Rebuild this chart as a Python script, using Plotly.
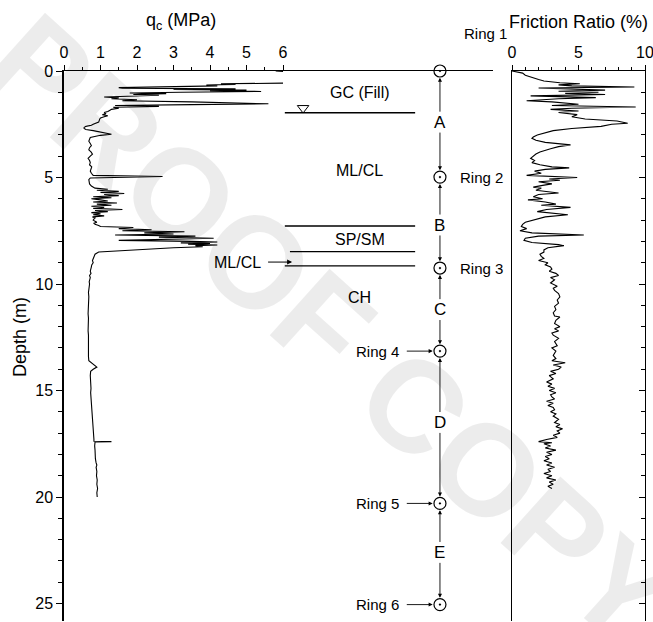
import plotly.graph_objects as go

# ---------------- data ----------------
qc_depth = [0.00, 0.02, None,
    0.57, 0.60, 0.63, 0.66, 0.70, 0.74, 0.78, 0.81, 0.84, 0.87, 0.90, 0.93, 0.96, 1.00, 1.03, 1.06, 1.10, 1.14,
    1.18, 1.22, 1.26, 1.30, 1.35, 1.40, 1.45, 1.50, 1.54, 1.58, 1.62, 1.66, 1.70, 1.75, 1.80, 1.85, 1.90, 1.95,
    2.00, 2.05, 2.10, 2.15, 2.20, 2.25, 2.30, 2.40, 2.50, 2.55, 2.60, 2.65, 2.70, 2.75, 2.80, 2.85, 2.92, 2.97,
    3.02, 3.07, 3.12, 3.2, 3.3, 3.4, 3.5, 3.6, 3.7, 3.8, 3.9, 4.0, 4.1, 4.2, 4.3, 4.4, 4.5, 4.6, 4.7, 4.8, 4.9,
    4.95, 4.98, 5.02, 5.1, 5.2, 5.3, 5.4, 5.5, 5.55, 5.6, 5.65, 5.7, 5.75, 5.8, 5.85, 5.9, 5.95, 6.0, 6.05, 6.1,
    6.15, 6.2, 6.25, 6.3, 6.35, 6.4, 6.45, 6.5, 6.55, 6.6, 6.65, 6.7, 6.75, 6.8, 6.85, 6.9, 6.95, 7.0, 7.05, 7.1,
    7.15, 7.2, 7.25, 7.3, 7.35, 7.4, 7.45, 7.5, 7.55, 7.6, 7.65, 7.7, 7.75, 7.8, 7.85, 7.9, 7.95, 8.0, 8.03, 8.07,
    8.1, 8.13, 8.17, 8.2, 8.25, 8.3, 8.4, 8.5, 8.6, 8.7, 8.8, 8.9, 9.0, 9.1, 9.2, 9.3, 9.4, 9.5, 9.6, 9.7, 9.8,
    9.9, 10.0, 10.2, 10.4, 10.6, 10.8, 11.0, 11.2, 11.4, 11.6, 11.8, 12.0, 12.2, 12.4, 12.6, 12.8, 13.0, 13.2,
    13.4, 13.6, 13.7, 13.8, 13.9, 14.0, 14.1, 14.3, 14.5, 14.7, 14.9, 15.1, 15.3, 15.5, 15.7, 15.9, 16.1, 16.3,
    16.5, 16.7, 16.9, 17.1, 17.3, 17.38, 17.4, 17.42, 17.6, 17.8, 18.0, 18.2, 18.4, 18.5, 18.6, 18.8, 19.0,
    19.2, 19.4, 19.6, 19.8, 20.0]
qc_mpa = [5.8, 6.0, None,
    6.0, 4.3, 4.7, 3.9, 4.2, 2.5, 1.5, 1.6, 4.7, 3.0, 5.0, 4.0, 5.4, 3.2, 1.8, 2.8, 1.9, 2.6,
    1.3, 1.1, 1.5, 1.3, 2.0, 1.6, 3.5, 5.0, 5.6, 3.5, 1.4, 2.6, 1.35, 1.5, 1.3, 1.25, 1.2, 1.1,
    1.15, 1.05, 1.2, 1.1, 1.0, 0.98, 0.97, 0.95, 0.8, 0.75, 0.6, 0.55, 0.55, 0.6, 0.8, 0.95, 1.1, 1.3,
    1.0, 0.8, 0.72, 0.7, 0.68, 0.72, 0.75, 0.7, 0.68, 0.74, 0.78, 0.72, 0.66, 0.7, 0.72, 0.7, 0.76, 0.74, 0.72, 0.75, 0.8,
    2.7, 1.5, 0.72, 0.68, 0.7, 0.7, 0.75, 0.85, 1.2, 0.9, 1.5, 1.0, 1.65, 1.1, 1.5, 0.8, 1.3, 0.75, 1.0, 1.2,
    0.8, 1.45, 0.9, 1.3, 0.75, 1.1, 0.8, 1.6, 0.85, 1.2, 0.75, 1.0, 0.8, 1.1, 0.78, 0.85, 0.82, 0.8, 0.85, 0.9,
    0.82, 0.85, 0.95, 1.0, 1.9, 1.5, 2.4, 1.6, 3.3, 2.2, 3.0, 1.4, 3.6, 2.6, 4.1, 2.2, 1.5, 3.5, 4.2, 3.2,
    4.0, 3.4, 4.2, 3.6, 3.8, 3.0, 1.8, 0.95, 0.85, 0.82, 0.8, 0.78, 0.8, 0.76, 0.75, 0.74, 0.72, 0.74, 0.7, 0.72, 0.7,
    0.69, 0.7, 0.68, 0.67, 0.68, 0.67, 0.66, 0.67, 0.66, 0.67, 0.66, 0.67, 0.66, 0.67, 0.66, 0.67, 0.67, 0.66,
    0.67, 0.68, 0.75, 0.85, 0.9, 0.8, 0.73, 0.72, 0.73, 0.72, 0.74, 0.73, 0.74, 0.75, 0.74, 0.77, 0.78, 0.77,
    0.79, 0.8, 0.8, 0.81, 0.82, 0.82, 1.3, 0.85, 0.84, 0.85, 0.85, 0.86, 0.88, 0.9, 0.88, 0.9, 0.89,
    0.91, 0.9, 0.92, 0.9, 0.91]

fr_depth = [0.0, 0.1, 0.2, 0.3, 0.4, 0.47, 0.55, 0.6, 0.65, 0.7, 0.75, 0.8, 0.85, 0.9, 0.95, 1.0, 1.05, 1.1,
    1.17, 1.25, 1.3, 1.4, 1.45, 1.5, 1.56, 1.62, 1.69, 1.75, 1.8, 1.88, 1.95, 2.05, 2.15, 2.25, 2.35, 2.45,
    2.5, 2.6, 2.7, 2.8, 2.9, 3.0, 3.1, 3.16, 3.25, 3.35, 3.47, 3.55, 3.65, 3.8, 3.9, 4.0, 4.1, 4.2, 4.3, 4.4,
    4.5, 4.55, 4.62, 4.7, 4.8, 4.9, 5.0, 5.07, 5.13, 5.2, 5.3, 5.37, 5.45, 5.5, 5.6, 5.73, 5.8, 5.9, 6.0,
    6.05, 6.15, 6.25, 6.3, 6.4, 6.5, 6.6, 6.7, 6.75, 6.85, 6.9, 7.0, 7.1, 7.2, 7.3, 7.4, 7.5, 7.6, 7.7,
    7.75, 7.85, 7.95, 8.05, 8.15, 8.2, 8.3, 8.4, 8.5, 8.6, 8.7, 8.8, 8.9, 9.0, 9.1, 9.2, 9.3, 9.4, 9.5,
    9.6, 9.7, 9.8, 9.95, 10.1, 10.2, 10.3, 10.45, 10.6, 10.75, 10.9, 11.05, 11.2, 11.35, 11.5, 11.55, 11.7,
    11.85, 12.0, 12.1, 12.2, 12.3, 12.4, 12.55, 12.7, 12.9, 13.0, 13.15, 13.35, 13.5, 13.6, 13.7, 13.8,
    13.9, 14.0, 14.1, 14.2, 14.3, 14.45, 14.6, 14.7, 14.8, 14.9, 15.0, 15.1, 15.2, 15.3, 15.4, 15.5, 15.6,
    15.7, 15.8, 15.9, 16.0, 16.1, 16.2, 16.35, 16.5, 16.6, 16.7, 16.8, 16.9, 17.0, 17.1, 17.2, 17.3, 17.4,
    17.45, 17.5, 17.6, 17.7, 17.8, 17.9, 18.0, 18.1, 18.2, 18.3, 18.4, 18.5, 18.6, 18.7, 18.8, 18.9, 19.0,
    19.1, 19.2, 19.3, 19.4, 19.5, 19.6]
fr_pct = [0.0, 0.8, 1.0, 1.6, 2.0, 2.4, 3.6, 5.1, 3.5, 4.5, 9.2, 2.0, 4.0, 7.0, 3.5, 6.5, 4.0, 7.0,
    1.4, 6.3, 3.5, 1.1, 3.0, 4.1, 5.0, 3.0, 9.3, 4.5, 2.9, 5.0, 3.5, 4.9, 4.5, 5.5, 7.9, 8.7,
    7.5, 6.7, 4.5, 3.1, 2.5, 1.9, 1.6, 1.5, 1.8, 2.5, 4.4, 3.5, 2.9, 2.1, 1.8, 1.6, 1.4, 1.7, 1.5, 2.1,
    3.0, 4.3, 2.5, 1.7, 2.2, 1.1, 4.9, 2.8, 3.6, 2.0, 3.0, 2.3, 1.6, 2.2, 1.8, 3.5, 2.0, 1.6, 2.3,
    1.2, 2.5, 3.3, 2.2, 4.4, 2.6, 1.9, 3.2, 4.2, 2.5, 2.2, 1.4, 1.0, 0.8, 0.7, 1.1, 0.6, 1.5, 5.4,
    2.0, 1.0, 0.9, 1.5, 3.5, 3.9, 2.7, 2.4, 2.4, 2.1, 2.2, 2.4, 2.0, 2.7, 2.5, 2.9, 3.0, 2.8, 3.3,
    3.5, 2.9, 3.2, 2.9, 3.4, 3.1, 3.2, 3.5, 3.6, 3.4, 3.5, 3.2, 3.3, 3.1, 3.2, 3.6, 3.3,
    3.2, 3.6, 3.2, 3.5, 3.0, 3.1, 3.5, 3.2, 3.4, 3.0, 3.3, 3.1, 3.3, 3.0, 4.0, 3.1,
    3.7, 3.5, 2.9, 3.3, 2.8, 3.1, 2.6, 3.0, 2.7, 3.2, 2.8, 3.3, 2.9, 3.0, 3.2, 2.6, 3.1,
    2.7, 3.1, 3.2, 2.9, 3.3, 3.1, 3.5, 3.2, 3.6, 3.3, 3.8, 3.4, 3.6, 3.1, 3.4, 2.6, 2.0,
    3.0, 2.4, 2.9, 2.5, 3.3, 2.6, 3.0, 2.5, 2.8, 2.4, 3.0, 2.6, 3.2, 2.7, 2.9, 2.4, 3.0,
    2.6, 3.3, 2.8, 3.1, 2.7, 3.0]

qc_ticks = [0, 1, 2, 3, 4, 5, 6]
fr_ticks = [0, 5, 10]
depth_ticks = [0, 5, 10, 15, 20, 25]

ring_names = ["Ring 1", "Ring 2", "Ring 3", "Ring 4", "Ring 5", "Ring 6"]
ring_depth = [0.0, 4.98, 9.25, 13.15, 20.3, 25.05]
zone_letters = ["A", "B", "C", "D", "E"]
zone_depth = [2.4, 7.23, 11.2, 16.5, 22.6]

layer_names = ["GC (Fill)", "ML/CL", "SP/SM", "CH"]
layer_label_depth = [1.03, 4.65, 7.93, 10.65]
boundary_depth = [1.96, 7.28, 8.48, 9.15]
boundary_x0 = [6.05, 6.05, 6.19, 6.05]
water_table_depth = 1.74

# ---------------- layout constants (positions in axis units) ----------------
RING_X = 10.3
LABEL_X = 8.1
XMAX_QC = 11.753
DMAX = 25.82
FONT = "Liberation Sans, Arial, sans-serif"

fig = go.Figure()

fig.add_trace(go.Scatter(x=qc_mpa, y=qc_depth, mode="lines", connectgaps=False,
                         line=dict(color="black", width=1.1), xaxis="x", yaxis="y",
                         showlegend=False, hoverinfo="skip"))
fig.add_trace(go.Scatter(x=fr_pct, y=fr_depth, mode="lines",
                         line=dict(color="black", width=1.1), xaxis="x2", yaxis="y2",
                         showlegend=False, hoverinfo="skip"))
# rings
fig.add_trace(go.Scatter(x=[RING_X] * len(ring_depth), y=ring_depth, mode="markers",
                         marker=dict(symbol="circle-open-dot", size=12, color="black",
                                     line=dict(width=1.2, color="black")),
                         cliponaxis=False, xaxis="x", yaxis="y", showlegend=False, hoverinfo="skip"))
# water table
fig.add_trace(go.Scatter(x=[6.55], y=[water_table_depth], mode="markers",
                         marker=dict(symbol="triangle-down-open", size=10, color="black",
                                     line=dict(width=1)),
                         xaxis="x", yaxis="y", showlegend=False, hoverinfo="skip"))

shapes = []
for d, x0 in zip(boundary_depth, boundary_x0):
    shapes.append(dict(type="line", xref="x", yref="y", x0=x0, x1=9.62, y0=d, y1=d,
                       line=dict(color="black", width=1.4)))

ann = []
# watermark
ann.append(dict(text="PROOF COPY", xref="paper", yref="paper", x=0.46, y=0.53,
                xanchor="center", yanchor="middle", showarrow=False, textangle=42,
                font=dict(family=FONT, size=130, color="rgba(0,0,0,0.075)", weight="bold")))
for name, d in zip(layer_names, layer_label_depth):
    ann.append(dict(text=name, x=LABEL_X, y=d, xref="x", yref="y", showarrow=False,
                    font=dict(family=FONT, size=16, color="black")))
# ML/CL thin layer label with arrow
ann.append(dict(text="ML/CL", x=5.45, y=8.97, xref="x", yref="y", showarrow=False,
                xanchor="right", font=dict(family=FONT, size=16, color="black")))
ann.append(dict(text="", x=6.25, y=8.97, ax=5.55, ay=8.97, xref="x", yref="y",
                axref="x", ayref="y", showarrow=True, arrowhead=2, arrowsize=1,
                arrowwidth=1, arrowcolor="black", standoff=0))
# zone letters and connecting arrows
for i, (L, d) in enumerate(zip(zone_letters, zone_depth)):
    ann.append(dict(text=L, x=RING_X, y=d, xref="x", yref="y", showarrow=False,
                    font=dict(family=FONT, size=17, color="black")))
    up = ring_depth[i]
    dn = ring_depth[i + 1]
    ann.append(dict(text="", x=RING_X, y=up + 0.32, ax=RING_X, ay=d - 0.42, xref="x", yref="y",
                    axref="x", ayref="y", showarrow=True, arrowhead=2, arrowsize=0.9,
                    arrowwidth=0.9, arrowcolor="black", standoff=0))
    ann.append(dict(text="", x=RING_X, y=dn - 0.32, ax=RING_X, ay=d + 0.42, xref="x", yref="y",
                    axref="x", ayref="y", showarrow=True, arrowhead=2, arrowsize=0.9,
                    arrowwidth=0.9, arrowcolor="black", standoff=0))
# ring labels
ann.append(dict(text=ring_names[0], x=10.9, y=1.0 + (71 - 33) / 550, xref="x", yref="paper",
                xanchor="left", yanchor="middle", showarrow=False,
                font=dict(family=FONT, size=15, color="black")))
ann.append(dict(text="", x=10.42, y=ring_depth[0] - 0.33, xref="x", yref="y", ax=18, ay=-22,
                showarrow=True, arrowhead=2, arrowsize=0.9, arrowwidth=0.9,
                arrowcolor="black", standoff=0))
for k in (1, 2):
    ann.append(dict(text=ring_names[k], x=10.8, y=ring_depth[k], xref="x", yref="y",
                    xanchor="left", showarrow=False, font=dict(family=FONT, size=15, color="black")))
for k in (3, 4, 5):
    ann.append(dict(text=ring_names[k], x=9.22, y=ring_depth[k], xref="x", yref="y",
                    xanchor="right", showarrow=False, font=dict(family=FONT, size=15, color="black")))
    ann.append(dict(text="", x=10.1, y=ring_depth[k], ax=9.35, ay=ring_depth[k], xref="x", yref="y",
                    axref="x", ayref="y", showarrow=True, arrowhead=2, arrowsize=0.9,
                    arrowwidth=0.9, arrowcolor="black", standoff=0))
# titles
ann.append(dict(text="q<sub>c</sub> (MPa)", xref="paper", yref="paper",
                x=(181 - 64) / 581, y=1.0 + (71 - 22) / 550, xanchor="center", yanchor="middle",
                showarrow=False, font=dict(family=FONT, size=18, color="black")))
ann.append(dict(text="Friction Ratio (%)", xref="paper", yref="paper",
                x=(578 - 64) / 581, y=1.0 + (71 - 22) / 550, xanchor="center", yanchor="middle",
                showarrow=False, font=dict(family=FONT, size=18, color="black")))
ann.append(dict(text="Depth (m)", xref="paper", yref="paper", textangle=-90,
                x=(20 - 64) / 581, y=(621 - 337) / 550, xanchor="center", yanchor="middle",
                showarrow=False, font=dict(family=FONT, size=18, color="black")))

axis_common = dict(showgrid=False, zeroline=False, showline=True, linecolor="black",
                   automargin=False, ticklabeloverflow="allow",
                   tickcolor="black", tickfont=dict(family=FONT, size=16, color="black"))

fig.update_layout(
    width=653, height=622,
    margin=dict(l=64, r=8, t=71, b=1, autoexpand=False),
    paper_bgcolor="white", plot_bgcolor="white",
    font=dict(family=FONT, color="black"),
    shapes=shapes, annotations=ann,
    xaxis=dict(domain=[0, (493 - 64) / 581], range=[0, XMAX_QC], side="top", anchor="y",
               tickmode="array", tickvals=qc_ticks, ticks="outside", ticklen=5, tickwidth=1,
               linewidth=1.3,
               minor=dict(tickmode="array", tickvals=[t + 0.5 for t in qc_ticks[:-1]],
                          ticks="outside", ticklen=3, tickcolor="black"),
               **axis_common),
    yaxis=dict(range=[DMAX, 0], anchor="x", tickmode="array", tickvals=depth_ticks,
               ticks="outside", ticklen=6, tickwidth=1.2, linewidth=1.5,
               minor=dict(dtick=1, ticks="outside", ticklen=4, tickcolor="black"),
               **axis_common),
    xaxis2=dict(domain=[(512 - 64) / 581, 1.0], range=[0, 10], side="top", anchor="y2",
                tickmode="array", tickvals=fr_ticks, ticks="outside", ticklen=5, tickwidth=1,
                linewidth=1.3,
                minor=dict(dtick=1, ticks="outside", ticklen=3, tickcolor="black"),
                **axis_common),
    yaxis2=dict(range=[DMAX, 0], anchor="x2", side="right", mirror=True,
                tickmode="array", tickvals=depth_ticks, ticks="inside", ticklen=6,
                tickwidth=1.2, linewidth=1.3, showticklabels=False,
                minor=dict(dtick=1, ticks="inside", ticklen=4, tickcolor="black"),
                **axis_common),
)

fig.write_html("out.html", config={"displayModeBar": False},
               post_script="document.body.style.margin='0';document.body.style.overflow='hidden';")
